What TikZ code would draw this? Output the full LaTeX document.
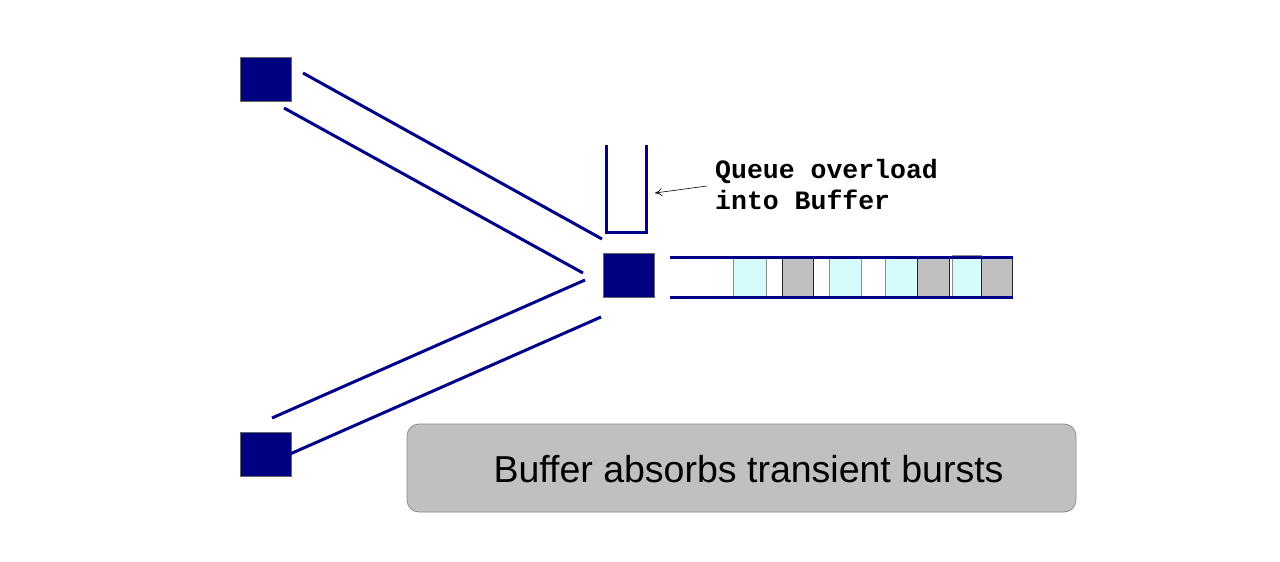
\documentclass[tikz,border=0pt]{standalone}
\usepackage{fontspec}
\setmainfont{Liberation Sans}
\newfontfamily\monob{Liberation Mono}
\usetikzlibrary{arrows.meta}
\definecolor{navyline}{RGB}{0,0,136}
\definecolor{navysq}{RGB}{0,0,128}
\definecolor{cyancell}{RGB}{214,251,251}
\definecolor{graycell}{RGB}{192,192,192}
\definecolor{boxgray}{RGB}{192,192,192}
\begin{document}
\begin{tikzpicture}[x=1pt,y=-1pt,
  pipe/.style={draw=navyline, line width=3pt},
  sq/.style={draw=black!60, fill=navysq, line width=0.6pt, minimum width=51pt, minimum height=44pt, inner sep=0pt},
  cbox/.style={draw=black!45, fill=cyancell, line width=0.8pt},
  gbox/.style={draw=black!85, fill=graycell, line width=0.8pt},
  lbl/.style={font=\monob\bfseries\fontsize{26.5}{31}\selectfont, inner sep=0pt, anchor=base west}]
\useasboundingbox (0,0) rectangle (1280,562);
\fill[white] (0,0) rectangle (1280,562);

% nodes
\node[sq] (s1) at (266,79) {};
\node[sq] (s2) at (266,454) {};
\node[sq] (hub) at (628.5,275) {};

% incoming pipes
\coordinate (a1) at (303,73);  \coordinate (a2) at (602,239);
\coordinate (b1) at (284,108); \coordinate (b2) at (583,273);
\coordinate (c1) at (585,280); \coordinate (c2) at (272,418);
\coordinate (d1) at (601,317); \coordinate (d2) at (290,454);
\draw[pipe] (a1) -- (a2);
\draw[pipe] (b1) -- (b2);
\draw[pipe] (c1) -- (c2);
\draw[pipe] (d1) -- (d2);

% queue (U shape)
\coordinate (q1) at (606,145);
\coordinate (q2) at (646,232);
\draw[pipe, line join=miter] (q1) |- (q2) -- (646,145);

% buffer cells
\draw[cbox] (733,257) rectangle (766,297);
\draw[gbox] (782,257) rectangle (813,297);
\draw[cbox] (829,257) rectangle (861,297);
\draw[cbox] (885,257) rectangle (917,297);
\draw[gbox] (917,257) rectangle (949,297);
\draw[cbox] (952,255) rectangle (981,296);
\draw[gbox] (981,257) rectangle (1012,297);

% outgoing pipe
\coordinate (p1) at (670,257); \coordinate (p2) at (1013,257);
\coordinate (p3) at (670,297); \coordinate (p4) at (1013,297);
\draw[pipe] (p1) -- (p2);
\draw[pipe] (p3) -- (p4);

% label
\node[lbl] (l1) at (715,178) {Queue overload};
\node[lbl] (l2) at (715,209) {into Buffer};
\coordinate (arrs) at (707,186);
\coordinate (arre) at (655,193);
\draw[black, line width=0.6pt, -{To[length=7pt,width=8pt]}] (arrs) -- (arre);

% bottom note
\node[draw=black!45, fill=boxgray, rounded corners=12pt, line width=0.8pt,
      minimum width=669pt, minimum height=88pt, inner sep=0pt] (note) at (741.5,468) {};
\node[font=\fontsize{37.5}{45}\selectfont, inner sep=0pt] (cap) at (748.5,469) {Buffer absorbs transient bursts};
\end{tikzpicture}
\end{document}
